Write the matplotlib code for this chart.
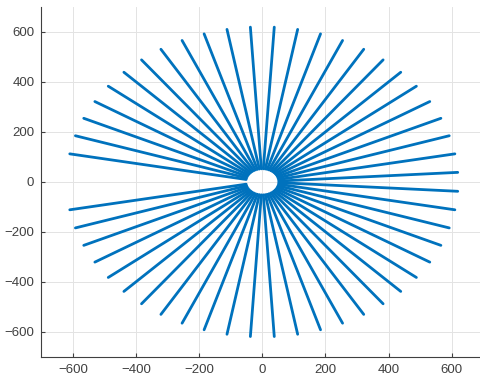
import numpy as np
import matplotlib
matplotlib.use('Agg')
import matplotlib.pyplot as plt

plt.rcParams['font.family'] = ['Liberation Sans', 'DejaVu Sans']

# spoke angles in degrees (two spokes near 180 deg are absent)
angles_deg = [3.5, 10.4, 17.3, 24.2, 31.2, 38.1, 45.0, 51.9, 58.8, 65.8,
              72.7, 79.6, 86.5, 93.5, 100.4, 107.3, 114.2, 121.2, 128.1,
              135.0, 141.9, 148.8, 155.8, 162.7, 169.6,
              190.4, 197.3, 204.2, 211.2, 218.1, 225.0, 231.9, 238.8, 245.8,
              252.7, 259.6, 266.5, 273.5, 280.4, 287.3, 294.2, 301.2, 308.1,
              315.0, 321.9, 328.8, 335.8, 342.7, 349.6, 356.5]
r_inner = 52
r_outer = 620

ticks = [-600, -400, -200, 0, 200, 400, 600]

fig = plt.figure(figsize=(4.8, 3.8), dpi=100)
ax = fig.add_axes([0.086, 0.061, 0.921, 0.921])

for a in angles_deg:
    t = np.deg2rad(a)
    ax.plot([r_inner*np.cos(t), r_outer*np.cos(t)],
            [r_inner*np.sin(t), r_outer*np.sin(t)],
            color='#0072BD', lw=2.0, solid_capstyle='round')

ax.set_xlim(-700, 700)
ax.set_ylim(-700, 700)
ax.set_xticks(ticks)
ax.set_yticks(ticks)
ax.grid(True, color='#e3e3e3', lw=0.7)
ax.set_axisbelow(True)

for s in ['top', 'right']:
    ax.spines[s].set_visible(False)
for s in ['left', 'bottom']:
    ax.spines[s].set_color('#404040')
    ax.spines[s].set_linewidth(0.8)
ax.tick_params(direction='in', length=3, width=0.8, colors='#404040',
               labelsize=9.5, pad=5)

fig.savefig('out.png', dpi=100)
